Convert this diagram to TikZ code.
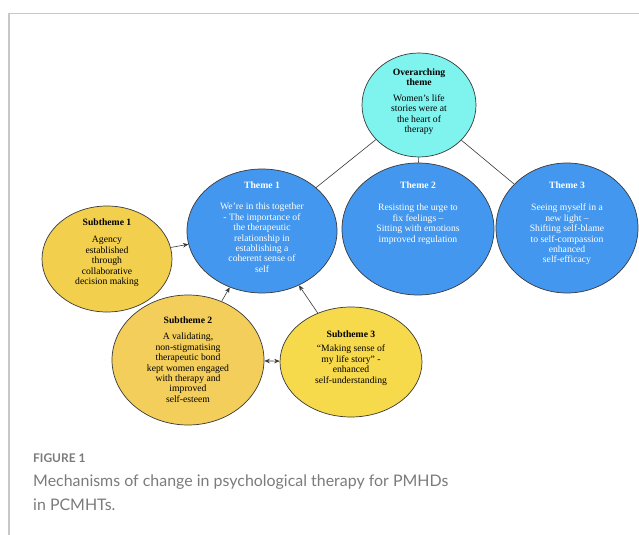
\documentclass[tikz,border=0pt]{standalone}
\usepackage{fontspec}
\setmainfont{Liberation Serif}
\newfontfamily\capfont{Lato}
\usetikzlibrary{shapes.geometric,arrows.meta}
\definecolor{aquafill}{HTML}{7FF3EE}
\definecolor{bluefill}{HTML}{4397EF}
\definecolor{yellowA}{HTML}{F3CF4E}
\definecolor{yellowB}{HTML}{F4CE5B}
\definecolor{yellowC}{HTML}{F7D94C}
\definecolor{framegray}{HTML}{C8C8C8}
\definecolor{capgray}{HTML}{7B7B7B}
\definecolor{edgegray}{HTML}{3A3A3A}
\begin{document}
\begin{tikzpicture}[x=1bp,y=-1bp,
  bubble/.style={ellipse,draw=edgegray,line width=0.7bp,inner sep=0pt},
  bubtext/.style={align=center,anchor=north,inner sep=0pt,
    font=\fontsize{9.7}{10.4}\selectfont},
  link/.style={draw=edgegray,line width=0.6bp},
  arrowlink/.style={link,-{Stealth[length=5.5bp,width=4.5bp]}},
  bothlink/.style={link,{Stealth[length=5.5bp,width=4.5bp]}-{Stealth[length=5.5bp,width=4.5bp]}},
  captext/.style={anchor=base west,inner sep=0pt,text=capgray}]
\useasboundingbox (0,0) rectangle (639,535);
\fill[white] (0,0) rectangle (639,535);
% frame
\draw[framegray,line width=1.4bp] (9,535) -- (9,13.5) -- (639,13.5);

% ellipses
\node[bubble,fill=aquafill,minimum width=114bp,minimum height=104bp] (over) at (419,105) {};
\node[bubble,fill=bluefill,minimum width=150bp,minimum height=124bp] (th1) at (262,231) {};
\node[bubble,fill=bluefill,minimum width=152bp,minimum height=132bp] (th2) at (418,229) {};
\node[bubble,fill=bluefill,minimum width=142bp,minimum height=130bp] (th3) at (567,228) {};
\node[bubble,fill=yellowA,minimum width=130bp,minimum height=106bp] (sub1) at (107,259) {};
\node[bubble,fill=yellowB,minimum width=152bp,minimum height=130bp] (sub2) at (188,360) {};
\node[bubble,fill=yellowC,minimum width=142bp,minimum height=110bp] (sub3) at (351,362) {};

% connectors
\draw[link] (over) -- (th1);
\draw[link] (over) -- (th2);
\draw[link] (over) -- (th3);
\draw[arrowlink] (sub1) -- (th1);
\draw[arrowlink] (sub2) -- (th1);
\draw[arrowlink] (sub3) -- (th1);
\draw[bothlink] (sub2) -- (sub3);

% texts
\node[bubtext] (overtxt) at (419,68.2) {\textbf{Overarching}\\\textbf{theme}\\[5.5bp]
  Women’s life\\stories were at\\the heart of\\therapy};
\node[bubtext,text=white] (th1txt) at (262,181.2) {\textbf{Theme 1}\\[11.5bp]
  We’re in this together\\- The importance of\\the therapeutic\\relationship in\\establishing a\\coherent sense of\\self};
\node[bubtext,text=white] (th2txt) at (418,181.2) {\textbf{Theme 2}\\[12.5bp]
  Resisting the urge to\\fix feelings --\\Sitting with emotions\\improved regulation};
\node[bubtext,text=white] (th3txt) at (567,181.2) {\textbf{Theme 3}\\[12.5bp]
  Seeing myself in a\\new light --\\Shifting self-blame\\to self-compassion\\enhanced\\self-efficacy};
\node[bubtext] (sub1txt) at (107,218.2) {\textbf{Subtheme 1}\\[7.5bp]
  Agency\\established\\through\\collaborative\\decision making};
\node[bubtext] (sub2txt) at (188,316.2) {\textbf{Subtheme 2}\\[6.5bp]
  A validating,\\non-stigmatising\\therapeutic bond\\kept women engaged\\with therapy and\\improved\\self-esteem};
\node[bubtext] (sub3txt) at (351,330.2) {\textbf{Subtheme 3}\\[4.5bp]
  “Making sense of\\my life story” -\\enhanced\\self-understanding};

% caption
\node[captext,font=\capfont\bfseries\fontsize{12}{14}\selectfont] (figlabel) at (33,462) {FIGURE 1};
\node[captext,font=\capfont\fontsize{16}{24}\selectfont] (capline1) at (33,486) {Mechanisms of change in psychological therapy for PMHDs};
\node[captext,font=\capfont\fontsize{16}{24}\selectfont] (capline2) at (33,510) {in PCMHTs.};
\end{tikzpicture}
\end{document}
